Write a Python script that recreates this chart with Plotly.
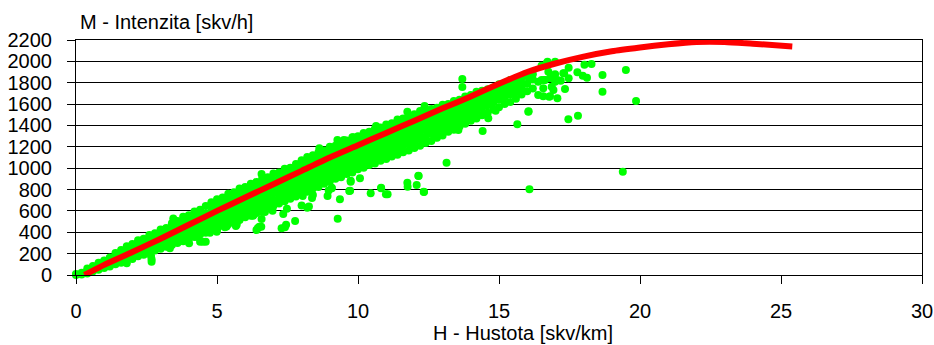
import plotly.graph_objects as go

# Red fitted curve: H (density) -> M (intensity)
curve_h = [0.3, 1, 2, 3, 4, 5, 6, 7, 8, 9, 10, 11, 12, 13, 14, 15, 16, 17, 18, 19, 20, 21, 22, 23, 24, 25.4]
curve_m = [0, 95, 215, 340, 470, 600, 725, 850, 975, 1100, 1215, 1330, 1445, 1560, 1672, 1790, 1900, 1980, 2045,
           2095, 2130, 2160, 2182, 2182, 2165, 2140]

# Measured points: dense band, column by column (density, list of intensities)
band_columns = [
    (0.0, [0, 10]),
    (0.2, [5, 20]),
    (0.4, [15, 40, 60]),
    (0.6, [35, 60, 85]),
    (0.8, [50, 80, 115]),
    (1.0, [65, 100, 135]),
    (1.2, [80, 120, 165]),
    (1.4, [100, 140, 185, 205]),
    (1.6, [115, 165, 210, 235]),
    (1.8, [140, 185, 235, 270]),
    (2.0, [150, 205, 255, 290]),
    (2.2, [175, 225, 275, 325]),
    (2.4, [190, 245, 295, 340]),
    (2.6, [210, 265, 320, 375]),
    (2.8, [230, 285, 340, 390]),
    (3.0, [245, 305, 360, 425]),
    (3.2, [265, 320, 380, 440]),
    (3.4, [280, 340, 400, 460, 485]),
    (3.6, [300, 355, 415, 475, 505]),
    (3.8, [315, 375, 435, 495, 545]),
    (4.0, [340, 395, 455, 515, 560]),
    (4.2, [355, 415, 475, 535, 595]),
    (4.4, [380, 435, 495, 555, 610]),
    (4.6, [395, 455, 515, 575, 645]),
    (4.8, [420, 475, 535, 595, 655, 680]),
    (5.0, [435, 495, 555, 615, 675, 710]),
    (5.2, [460, 515, 575, 635, 695, 725]),
    (5.4, [475, 535, 595, 655, 715, 760]),
    (5.6, [500, 555, 615, 675, 735, 775]),
    (5.8, [515, 575, 635, 695, 755, 810]),
    (6.0, [540, 595, 655, 715, 775, 825]),
    (6.2, [555, 615, 675, 735, 795, 855]),
    (6.4, [580, 635, 695, 755, 815, 870]),
    (6.6, [600, 660, 720, 780, 840, 900]),
    (6.8, [625, 680, 740, 800, 860, 915]),
    (7.0, [645, 705, 765, 825, 885, 950]),
    (7.2, [670, 725, 785, 845, 905, 960]),
    (7.4, [690, 750, 810, 870, 930, 995]),
    (7.6, [715, 770, 830, 890, 950, 1005]),
    (7.8, [735, 795, 855, 915, 975, 1040]),
    (8.0, [765, 820, 880, 940, 1000, 1060, 1075]),
    (8.2, [780, 840, 900, 960, 1020, 1080, 1105]),
    (8.4, [810, 865, 925, 985, 1045, 1105, 1120]),
    (8.6, [825, 885, 945, 1005, 1065, 1125, 1150]),
    (8.8, [855, 910, 970, 1030, 1090, 1150, 1165]),
    (9.0, [875, 935, 995, 1055, 1115, 1175, 1200]),
    (9.2, [900, 955, 1015, 1075, 1135, 1195, 1210]),
    (9.4, [915, 975, 1035, 1095, 1155, 1215, 1245]),
    (9.6, [945, 1000, 1060, 1120, 1180, 1240, 1260]),
    (9.8, [960, 1020, 1080, 1140, 1200, 1260, 1290]),
    (10.0, [990, 1045, 1105, 1165, 1225, 1285, 1300]),
    (10.2, [1005, 1065, 1125, 1185, 1245, 1305, 1330]),
    (10.4, [1030, 1085, 1145, 1205, 1265, 1325, 1340]),
    (10.6, [1045, 1105, 1165, 1225, 1285, 1345, 1370]),
    (10.8, [1070, 1125, 1185, 1245, 1305, 1365, 1380]),
    (11.0, [1085, 1145, 1205, 1265, 1325, 1385, 1410]),
    (11.2, [1110, 1165, 1225, 1285, 1345, 1405, 1420]),
    (11.4, [1125, 1185, 1245, 1305, 1365, 1425, 1455]),
    (11.6, [1150, 1210, 1270, 1330, 1390, 1445, 1465]),
    (11.8, [1165, 1230, 1290, 1350, 1410, 1465, 1495]),
    (12.0, [1190, 1250, 1310, 1370, 1430, 1485, 1505]),
    (12.2, [1210, 1275, 1335, 1395, 1455, 1510, 1535]),
    (12.4, [1235, 1295, 1355, 1415, 1475, 1530, 1540]),
    (12.6, [1255, 1320, 1380, 1440, 1500, 1555]),
    (12.8, [1285, 1345, 1405, 1465, 1525, 1565]),
    (13.0, [1305, 1370, 1430, 1490, 1550, 1595]),
    (13.2, [1340, 1400, 1460, 1520, 1575, 1600]),
    (13.4, [1360, 1425, 1485, 1545, 1600, 1630]),
    (13.6, [1390, 1450, 1510, 1570, 1620, 1640]),
    (13.8, [1415, 1480, 1540, 1595, 1640, 1670]),
    (14.0, [1445, 1505, 1565, 1620, 1665, 1685]),
    (14.2, [1465, 1530, 1590, 1645, 1690, 1715]),
    (14.4, [1495, 1560, 1615, 1665, 1710, 1725]),
    (14.6, [1520, 1590, 1640, 1690, 1740]),
    (14.8, [1550, 1615, 1665, 1715, 1755]),
    (15.0, [1570, 1640, 1690, 1740, 1785]),
    (15.2, [1600, 1665, 1715, 1760, 1795]),
    (15.4, [1620, 1690, 1740, 1785, 1825]),
    (15.6, [1650, 1715, 1765, 1810, 1835]),
    (15.8, [1690, 1750, 1800, 1850]),
    (16.0, [1720, 1790, 1860]),
    (16.2, [1745, 1830, 1880]),
]

# Scattered points outside the dense band
scatter_h = [2.66, 2.68, 2.68, 1.8, 3.33, 3.45, 4.01, 4.28, 4.4, 4.5, 4.6, 4.75, 4.99, 5.0, 5.28, 5.34, 5.57, 5.67,
             5.67, 5.7, 6.27, 6.29, 6.4, 6.45, 6.5, 6.57, 6.58, 6.58, 6.6, 6.7, 6.97, 7.29, 7.35, 7.41, 7.45, 7.48,
             7.77, 8.0, 8.04, 8.2, 8.26, 8.37, 8.4, 8.63, 8.92, 8.96, 9.07, 9.07, 9.22, 9.27, 9.28, 9.36, 9.5,
             9.69, 9.72, 9.74, 9.74, 9.83, 10.07, 10.45, 10.64, 10.82, 10.82, 10.99, 11.05, 11.25, 11.6, 11.75,
             11.75, 11.76, 12.08, 12.14, 12.15, 12.33, 12.34, 12.36, 12.77, 13.14, 13.3, 13.56, 13.7, 13.7,
             14.42, 14.62, 14.88, 15.65, 16.04, 16.05, 16.08, 16.39, 16.39, 16.51, 16.51, 16.57, 16.57, 16.6,
             16.63, 16.69, 16.72, 16.75, 16.78, 16.81, 16.81, 16.87, 16.93, 16.93, 16.99, 16.99, 16.99, 17.07,
             17.07, 17.19, 17.28, 17.31, 17.34, 17.46, 17.47, 17.47, 17.78, 17.8, 17.97, 18.03, 18.12, 18.28,
             18.67, 18.67, 19.39, 19.5, 19.86]
scatter_m = [178, 147, 125, 109, 250, 530, 297, 359, 312, 312, 312, 396, 404, 421, 447, 455, 552, 490,
             459, 473, 555, 560, 421, 440, 452, 452, 524, 945, 593, 590, 602, 437, 570, 447, 470, 620,
             505, 650, 740, 630, 641, 721, 750, 1186, 740, 790, 811, 817, 936, 1264, 527, 709, 1264,
             786, 789, 873, 883, 1290, 905, 765, 1395, 811, 817, 755, 755, 1414, 1460, 1529,
             864, 827, 843, 930, 927, 780, 777, 1582, 1289, 1051, 1395, 1357, 1835, 1760,
             1348, 1467, 1538, 1411, 1529, 1532, 802, 1810, 1685, 1960, 1825, 1673, 1748, 1825,
             1825, 1982, 1997, 1903, 1669, 1841, 1673, 1763, 1863, 1732, 1997, 1879, 1810, 1825,
             1654, 1819, 1888, 1888, 1741, 1457, 1941, 1841, 1897, 1491, 1866, 1969, 1847, 1975,
             1872, 1716, 967, 1919, 1629]

x_ticks = [0, 5, 10, 15, 20, 25, 30]
y_ticks = [0, 200, 400, 600, 800, 1000, 1200, 1400, 1600, 1800, 2000, 2200]
x_title = "H - Hustota [skv/km]"
y_title = "M - Intenzita [skv/h]"

pts_h = [h for h, ms in band_columns for _ in ms] + scatter_h
pts_m = [m for _, ms in band_columns for m in ms] + scatter_m

FONT = "Liberation Sans, Arial, sans-serif"

fig = go.Figure()
fig.add_trace(go.Scatter(
    x=pts_h, y=pts_m, mode="markers",
    marker=dict(color="#00FF00", size=8, line=dict(width=0)),
    cliponaxis=False, showlegend=False, hoverinfo="skip",
))
fig.add_trace(go.Scatter(
    x=curve_h, y=curve_m, mode="lines",
    line=dict(color="#FF0000", width=6, shape="spline", smoothing=0.6),
    showlegend=False, hoverinfo="skip",
))

fig.update_layout(
    width=934, height=345,
    margin=dict(l=76, r=12, t=40, b=70, pad=0, autoexpand=False),
    paper_bgcolor="white", plot_bgcolor="white",
    font=dict(family=FONT, size=20, color="black"),
    xaxis=dict(
        range=[0, 30], tickvals=x_ticks, ticktext=[str(v) for v in x_ticks],
        ticks="outside", ticklen=8, tickcolor="black", tickwidth=1,
        showline=True, linecolor="black", linewidth=1, mirror=True,
        showgrid=False, zeroline=False, ticklabelstandoff=10, automargin=False,
        tickfont=dict(family=FONT, size=20, color="black"),
    ),
    yaxis=dict(
        range=[0, 2200], tickvals=y_ticks, ticktext=[str(v) for v in y_ticks],
        ticks="outside", ticklen=8, tickcolor="black", tickwidth=1,
        showline=True, linecolor="black", linewidth=1, mirror=True,
        showgrid=True, gridcolor="black", gridwidth=1, zeroline=False,
        ticklabelstandoff=11, automargin=False,
        tickfont=dict(family=FONT, size=20, color="black"),
    ),
    annotations=[
        dict(text=y_title, xref="paper", yref="paper", x=0.0024, y=1.0766,
             xanchor="left", yanchor="middle", showarrow=False,
             font=dict(family=FONT, size=20, color="black")),
        dict(text=x_title, xref="paper", yref="paper", x=0.528, y=-0.247,
             xanchor="center", yanchor="middle", showarrow=False,
             font=dict(family=FONT, size=20, color="black")),
    ],
)

fig.write_html("out.html")
